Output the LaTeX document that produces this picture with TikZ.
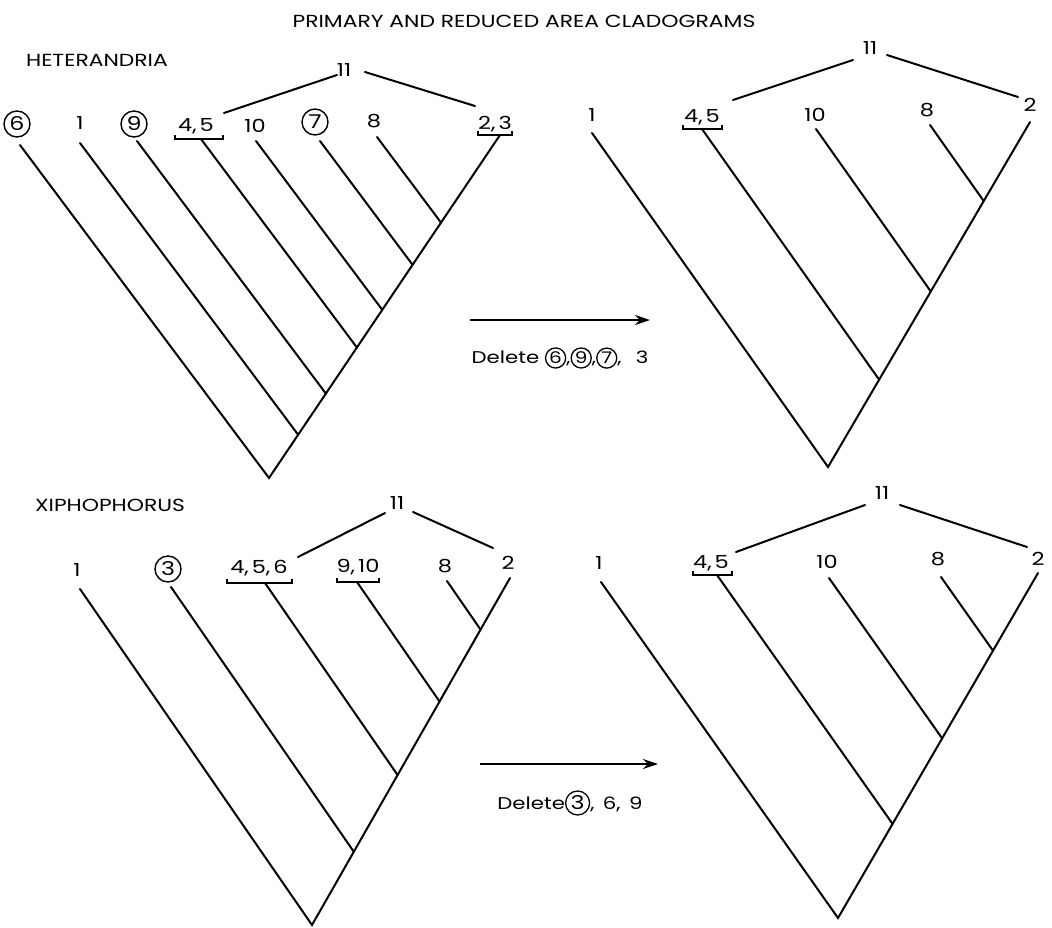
\documentclass[tikz,border=0pt]{standalone}
\usepackage{fontspec}
\setmainfont{Poppins}[FakeStretch=1.25]
\usetikzlibrary{arrows.meta,calc}
\newcommand{\cnum}[2][20pt]{\tikz[baseline=(cn.base)]\node[draw,circle,line width=1.3pt,inner sep=1pt,minimum size=#1](cn){#2};}
\tikzset{
  br/.style={line width=2pt, line cap=round},
  brk/.style={line width=2.2pt},
  lbl/.style={font=\fontsize{18}{18}\selectfont, inner sep=0pt},
  clbl/.style={inner sep=0pt, font=\fontsize{19}{19}\selectfont, draw, circle, line width=1.4pt, minimum size=26pt},
  ttl/.style={font=\fontsize{17.5}{17.5}\selectfont, inner sep=0pt},
  arr/.style={line width=2.2pt, -{Stealth[length=15pt,width=10pt]}},
  dtxt/.style={font=\fontsize{17}{17}\selectfont, inner sep=0pt}
}
\begin{document}
\begin{tikzpicture}[x=1pt,y=-1pt]
\useasboundingbox (0,0) rectangle (1052,927);
\node[ttl] (title) at (524,21) {PRIMARY AND REDUCED AREA CLADOGRAMS};
% ---------------- Tree 1
\node[ttl] (hetero) at (97,60) {HETERANDRIA};
\node[clbl] (a6) at (17,124) {6};
\node[lbl] (a1) at (80,123) {1};
\node[clbl] (a9) at (134,124) {9};
\node[lbl] (a45) at (196,126) {4,\,5};
\node[lbl] (a10) at (255,126) {10};
\node[clbl] (a7) at (315,122) {7};
\node[lbl] (a8) at (374,121) {8};
\node[lbl] (a23) at (495,124) {2,\,3};
\node[lbl] (a11) at (344,70) {11};
\coordinate (ar) at (269,478);
\coordinate (as) at (500,135);
\coordinate (t6) at (20,145);
\coordinate (t1) at (80,143);
\coordinate (t9) at (137,141);
\coordinate (t45) at (201,139);
\coordinate (t10) at (256,141);
\coordinate (t7) at (320,141);
\coordinate (t8) at (377,137);
\foreach \n in {1,9,45,10,7,8}{
  \coordinate (td\n) at ($(t\n)+(249,333)$);
  \coordinate (tj\n) at (intersection cs: first line={(t\n)--(td\n)}, second line={(ar)--(as)});
  \draw[br] (t\n) -- (tj\n);
}
\draw[br] (t6) -- (ar) -- (as);
\draw[brk] (175,135) -- (175,139) -- (223,139) -- (223,135);
\draw[brk] (478,131) -- (478,135) -- (512,135) -- (512,131);
\coordinate (a11l) at (337,75); \coordinate (a45e) at (224,113);
\coordinate (a11r) at (365,72); \coordinate (a23e) at (475,106);
\draw[br] (a11l) -- (a45e);
\draw[br] (a11r) -- (a23e);
% arrow 1
\coordinate (p1) at (470,320); \coordinate (q1) at (650,320);
\draw[arr] (p1) -- (q1);
\node[dtxt] (del1) at (560,358) {Delete\ \cnum{\fontsize{16}{16}\selectfont 6},\cnum{\fontsize{16}{16}\selectfont 9},\cnum{\fontsize{16}{16}\selectfont 7},\ \ \,3};
% ---------------- Tree 2
\node[lbl] (b1) at (592,115) {1};
\node[lbl] (b45) at (702,117) {4,\,5};
\node[lbl] (b10) at (815,115) {10};
\node[lbl] (b8) at (927,110) {8};
\node[lbl] (b2) at (1030,105) {2};
\node[lbl] (b11) at (870,48) {11};
\coordinate (broot) at (828,467);
\coordinate (bs) at (1030,122);
\coordinate (u1) at (592,133);
\coordinate (u45) at (702,129);
\coordinate (u10) at (816,129);
\coordinate (u8) at (930,125);
\foreach \n in {45,10,8}{
  \coordinate (ud\n) at ($(u\n)+(236,334)$);
  \coordinate (uj\n) at (intersection cs: first line={(u\n)--(ud\n)}, second line={(broot)--(bs)});
  \draw[br] (u\n) -- (uj\n);
}
\draw[br] (u1) -- (broot) -- (bs);
\draw[brk] (683,125) -- (683,129) -- (722,129) -- (722,125);
\coordinate (b11l) at (853,60); \coordinate (b45e) at (733,100);
\coordinate (b11r) at (887,55); \coordinate (b2e) at (1018,97);
\draw[br] (b11l) -- (b45e);
\draw[br] (b11r) -- (b2e);
% ---------------- Tree 3
\node[ttl] (xipho) at (110,505) {XIPHOPHORUS};
\node[lbl] (c1) at (77,570) {1};
\node[clbl] (c3) at (168,569) {3};
\node[lbl] (c456) at (259,568) {4,\,5,\,6};
\node[lbl] (c910) at (358,567) {9,\,10};
\node[lbl] (c8) at (445,566) {8};
\node[lbl] (c2) at (508,563) {2};
\node[lbl] (c11) at (397,503) {11};
\coordinate (croot) at (312,925);
\coordinate (cs) at (510,578);
\coordinate (v1) at (80,589);
\coordinate (v3) at (171,587);
\coordinate (v456) at (265,583);
\coordinate (v910) at (357,582);
\coordinate (v8) at (447,581);
\foreach \n in {3,456,910,8}{
  \coordinate (vd\n) at ($(v\n)+(232,336)$);
  \coordinate (vj\n) at (intersection cs: first line={(v\n)--(vd\n)}, second line={(croot)--(cs)});
  \draw[br] (v\n) -- (vj\n);
}
\draw[br] (v1) -- (croot) -- (cs);
\draw[brk] (227,579) -- (227,583) -- (292,583) -- (292,579);
\draw[brk] (337,578) -- (337,582) -- (379,582) -- (379,578);
\coordinate (c11l) at (385,513); \coordinate (c456e) at (298,557);
\coordinate (c11r) at (413,512); \coordinate (c2e) at (493,548);
\draw[br] (c11l) -- (c456e);
\draw[br] (c11r) -- (c2e);
% arrow 2
\coordinate (p2) at (480,764); \coordinate (q2) at (658,764);
\draw[arr] (p2) -- (q2);
\node[dtxt] (del2) at (570,803) {Delete\cnum[24pt]{\fontsize{19}{19}\selectfont 3},\ \,6,\ \,9};
% ---------------- Tree 4
\node[lbl] (d1) at (599,563) {1};
\node[lbl] (d45) at (711,563) {4,\,5};
\node[lbl] (d10) at (827,562) {10};
\node[lbl] (d8) at (938,559) {8};
\node[lbl] (d2) at (1038,559) {2};
\node[lbl] (d11) at (882,493) {11};
\coordinate (droot) at (838,918);
\coordinate (ds) at (1038,573);
\coordinate (w1) at (601,582);
\coordinate (w45) at (717,575);
\coordinate (w10) at (829,578);
\coordinate (w8) at (941,577);
\foreach \n in {45,10,8}{
  \coordinate (wd\n) at ($(w\n)+(237,336)$);
  \coordinate (wj\n) at (intersection cs: first line={(w\n)--(wd\n)}, second line={(droot)--(ds)});
  \draw[br] (w\n) -- (wj\n);
}
\draw[br] (w1) -- (droot) -- (ds);
\draw[brk] (693,571) -- (693,575) -- (732,575) -- (732,571);
\coordinate (d11l) at (865,505); \coordinate (d45e) at (736,552);
\coordinate (d11r) at (900,505); \coordinate (d2e) at (1027,547);
\draw[br] (d11l) -- (d45e);
\draw[br] (d11r) -- (d2e);
\end{tikzpicture}
\end{document}
